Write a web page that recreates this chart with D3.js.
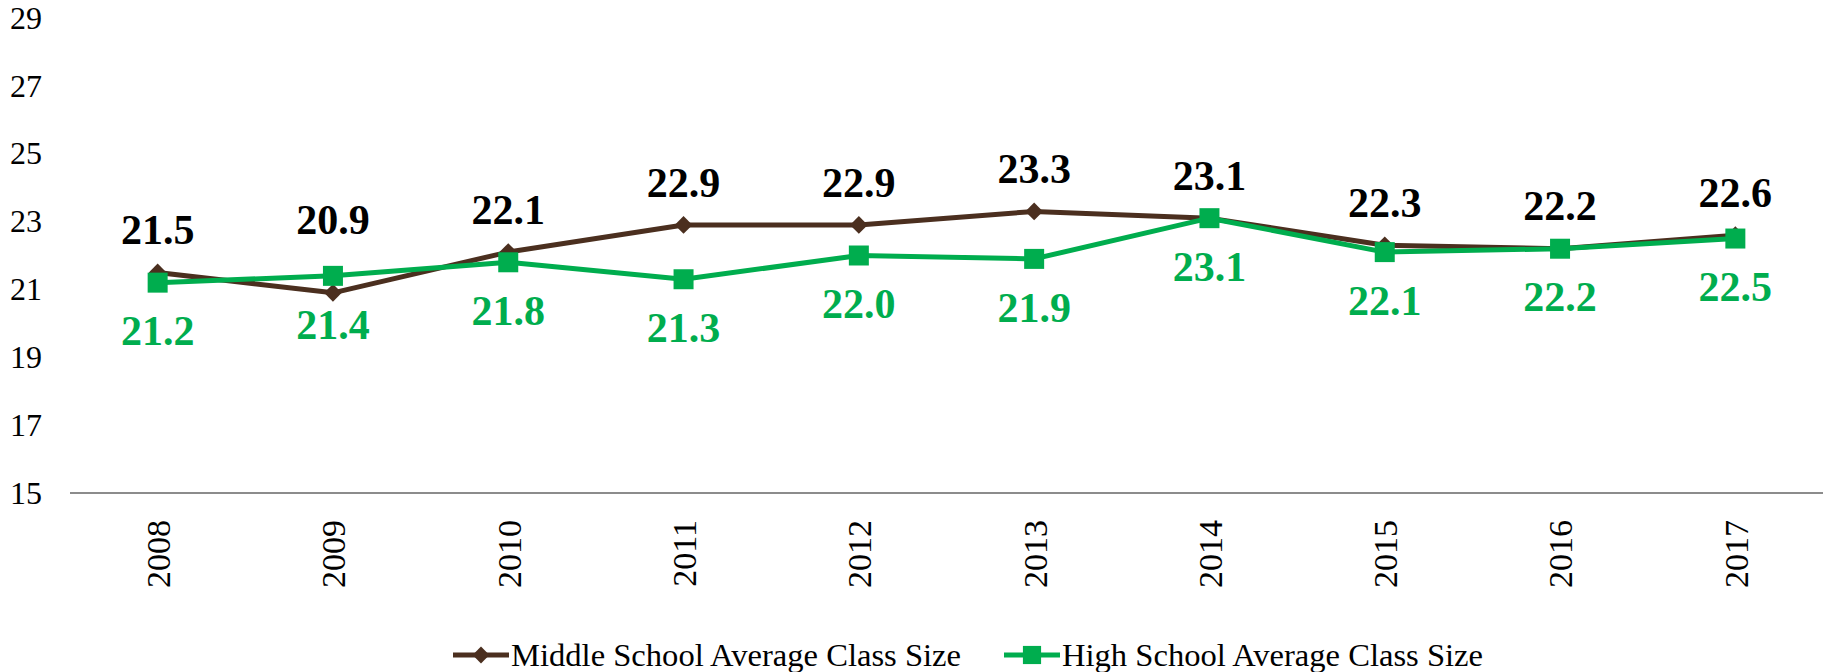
<!DOCTYPE html>
<html>
<head>
<meta charset="utf-8">
<script src="https://cdn.jsdelivr.net/npm/d3@7"></script>
<style>
  body { margin: 0; background: #fff; }
  svg { display: block; }
</style>
</head>
<body>
<svg id="chart" width="1830" height="672"></svg>
<script>
const years = ['2008', '2009', '2010', '2011', '2012', '2013', '2014', '2015', '2016', '2017']
const middleSchool = [21.5, 20.9, 22.1, 22.9, 22.9, 23.3, 23.1, 22.3, 22.2, 22.6]
const highSchool = [21.2, 21.4, 21.8, 21.3, 22.0, 21.9, 23.1, 22.1, 22.2, 22.5]
const yTicks = [15, 17, 19, 21, 23, 25, 27, 29]
const seriesNames = ['Middle School Average Class Size', 'High School Average Class Size']

const BROWN = '#4b2f1f'
const GREEN = '#00ad4e'
const FONT = 'Liberation Serif, Times New Roman, serif'

const svg = d3.select('#chart')
const plot = {left: 70, right: 1823, top: 18, bottom: 493}

const x = d3.scalePoint().domain(years).range([plot.left, plot.right]).padding(0.5)
const y = d3.scaleLinear().domain([15, 29]).range([plot.bottom, plot.top])

// y axis labels only (no line, no grid)
svg.append('g')
  .attr('transform', `translate(${plot.left - 28}, 0)`)
  .call(d3.axisLeft(y).tickValues(yTicks).tickSize(0).tickPadding(0))
  .call((g) => g.select('.domain').remove())
  .selectAll('text')
  .style('font-family', FONT)
  .style('font-size', '32px')
  .attr('fill', '#000')

// x axis line + rotated year labels
const xAxis = svg.append('g')
  .attr('transform', `translate(0, ${plot.bottom})`)
  .call(d3.axisBottom(x).tickSize(0).tickPadding(0))
xAxis.select('.domain')
  .attr('d', `M${plot.left},0H${plot.right}`)
  .attr('stroke', '#8c8c8c')
  .attr('stroke-width', 2)
xAxis.selectAll('text')
  .style('font-family', FONT)
  .style('font-size', '34px')
  .attr('fill', '#000')
  .attr('text-anchor', 'end')
  .attr('transform', 'translate(0, 27) rotate(-90)')
  .attr('x', 0)
  .attr('y', 0)
  .attr('dy', '0.35em')

const mid = years.map((yr, i) => ({year: yr, value: middleSchool[i], other: highSchool[i]}))
const high = years.map((yr, i) => ({year: yr, value: highSchool[i]}))

const line = d3.line().x((d) => x(d.year)).y((d) => y(d.value))

const diamond = d3.symbol().type(d3.symbolDiamond2).size(200)
const square = d3.symbol().type(d3.symbolSquare).size(400)

// middle school series
svg.append('path')
  .datum(mid)
  .attr('fill', 'none')
  .attr('stroke', BROWN)
  .attr('stroke-width', 5)
  .attr('stroke-linejoin', 'round')
  .attr('d', line)

svg.selectAll('.mid-pt')
  .data(mid)
  .enter()
  .append('path')
  .attr('class', 'mid-pt')
  .attr('transform', (d) => `translate(${x(d.year)}, ${y(d.value)})`)
  .attr('d', diamond)
  .attr('fill', BROWN)

// high school series
svg.append('path')
  .datum(high)
  .attr('fill', 'none')
  .attr('stroke', GREEN)
  .attr('stroke-width', 5)
  .attr('stroke-linejoin', 'round')
  .attr('d', line)

svg.selectAll('.high-pt')
  .data(high)
  .enter()
  .append('path')
  .attr('class', 'high-pt')
  .attr('transform', (d) => `translate(${x(d.year)}, ${y(d.value)})`)
  .attr('d', square)
  .attr('fill', GREEN)

// data labels: middle above, high below
svg.selectAll('.mid-lbl')
  .data(mid)
  .enter()
  .append('text')
  .attr('class', 'mid-lbl')
  .attr('x', (d) => x(d.year))
  .attr('y', (d) => {
    // when the green point sits higher, lift the label clear of it
    const top = Math.min(y(d.value), y(d.other))
    return top - 43 - (d.other > d.value ? 14 : 0)
  })
  .attr('dy', '0.35em')
  .attr('text-anchor', 'middle')
  .style('font-family', FONT)
  .style('font-size', '42px')
  .style('font-weight', 'bold')
  .attr('fill', '#000')
  .text((d) => d.value.toFixed(1))

svg.selectAll('.high-lbl')
  .data(high)
  .enter()
  .append('text')
  .attr('class', 'high-lbl')
  .attr('x', (d) => x(d.year))
  .attr('y', (d) => y(d.value) + 48)
  .attr('dy', '0.35em')
  .attr('text-anchor', 'middle')
  .style('font-family', FONT)
  .style('font-size', '42px')
  .style('font-weight', 'bold')
  .attr('fill', GREEN)
  .text((d) => d.value.toFixed(1))

// legend
const legendItems = [
  {name: seriesNames[0], color: BROWN, symbol: d3.symbol().type(d3.symbolDiamond2).size(180), x0: 453},
  {name: seriesNames[1], color: GREEN, symbol: d3.symbol().type(d3.symbolSquare).size(330), x0: 1004},
]
const legend = svg.append('g').attr('transform', 'translate(0, 655)')
const li = legend.selectAll('g').data(legendItems).enter().append('g')
  .attr('transform', (d) => `translate(${d.x0}, 0)`)
li.append('line')
  .attr('x1', 0).attr('x2', 56)
  .attr('stroke', (d) => d.color)
  .attr('stroke-width', 5)
li.append('path')
  .attr('transform', 'translate(28, 0)')
  .attr('d', (d) => d.symbol())
  .attr('fill', (d) => d.color)
li.append('text')
  .attr('x', 58)
  .attr('dy', '0.35em')
  .style('font-family', FONT)
  .style('font-size', '32.6px')
  .attr('fill', '#000')
  .text((d) => d.name)
</script>
</body>
</html>
